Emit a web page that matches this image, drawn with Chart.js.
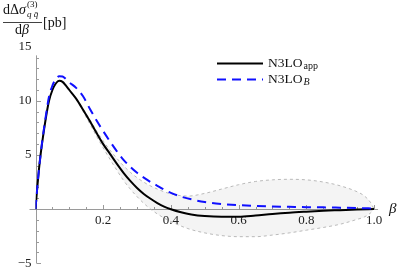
<!DOCTYPE html>
<html><head><meta charset="utf-8">
<script src="https://cdn.jsdelivr.net/npm/chart.js@4.4.0/dist/chart.umd.min.js"></script>
<style>html,body{margin:0;padding:0;background:#fff}</style>
</head><body><canvas id="c" width="399" height="275"></canvas>
<script>
// beta grid for the two curves
const betaValues = [0, 0.005, 0.01, 0.015, 0.02, 0.03, 0.04, 0.05, 0.06, 0.07, 0.08, 0.09, 0.10, 0.12, 0.14, 0.16, 0.18, 0.20, 0.22, 0.24, 0.26, 0.28, 0.30, 0.32, 0.34, 0.36, 0.38, 0.40, 0.43, 0.46, 0.50, 0.55, 0.60, 0.65, 0.70, 0.75, 0.80, 0.85, 0.90, 0.95, 1.0];
// N3LO_app (black solid)
const n3loApp = [0, 1.9, 3.6, 5.0, 6.2, 8.3, 10.0, 11.0, 11.6, 11.85, 11.75, 11.4, 11.0, 10.2, 9.2, 8.15, 7.05, 6.0, 5.1, 4.2, 3.35, 2.6, 1.95, 1.4, 0.95, 0.55, 0.22, -0.02, -0.3, -0.5, -0.65, -0.72, -0.72, -0.6, -0.45, -0.33, -0.24, -0.16, -0.1, -0.04, 0];
// N3LO_B (blue dashed)
const n3loB = [0, 1.9, 3.6, 5.0, 6.3, 8.5, 10.4, 11.4, 12.0, 12.28, 12.25, 12.0, 11.7, 11.2, 10.45, 9.3, 8.2, 7.2, 6.25, 5.35, 4.55, 3.9, 3.35, 2.9, 2.5, 2.15, 1.8, 1.5, 1.15, 0.9, 0.65, 0.47, 0.36, 0.29, 0.24, 0.21, 0.18, 0.16, 0.13, 0.1, 0.05];
// uncertainty band
const bandBeta  = [0.10, 0.12, 0.14, 0.16, 0.18, 0.20, 0.22, 0.24, 0.26, 0.28, 0.30, 0.33, 0.36, 0.40, 0.45, 0.50, 0.55, 0.60, 0.65, 0.70, 0.75, 0.80, 0.85, 0.90, 0.95, 0.97, 0.99, 1.0];
const bandUpper = [11.0, 10.25, 9.3, 8.3, 7.25, 6.3, 5.45, 4.7, 4.0, 3.4, 2.9, 2.3, 1.85, 1.4, 1.2, 1.45, 1.85, 2.25, 2.55, 2.7, 2.75, 2.7, 2.5, 2.15, 1.6, 1.25, 0.6, 0];
const bandLower = [11.0, 10.15, 9.05, 7.9, 6.75, 5.65, 4.6, 3.6, 2.65, 1.85, 1.15, 0.25, -0.45, -1.15, -1.8, -2.2, -2.45, -2.55, -2.55, -2.4, -2.2, -1.95, -1.7, -1.4, -0.95, -0.75, -0.35, 0];
// axis ticks
const xTickLabels = ['0.2', '0.4', '0.6', '0.8', '1.0'];
const yTickLabels = ['\u22125', '5', '10', '15'];
const legendLabels = [['N3LO', 'app'], ['N3LO', 'B']];

const pts = (xs, ys) => xs.map((v, i) => ({x: v, y: ys[i]}));
const SERIF = '"Liberation Serif", "DejaVu Serif", serif';
const AXIS = '#9a9a9a';

const decor = {
  id: 'decor',
  beforeDatasetsDraw(chart) {
    const {ctx, scales: {x, y}} = chart;
    const x0 = Math.round(x.getPixelForValue(0)) + 0.5;
    const y0 = Math.round(y.getPixelForValue(0)) + 0.5;
    ctx.save();
    ctx.strokeStyle = AXIS; ctx.lineWidth = 1;
    ctx.beginPath();
    ctx.moveTo(x0 - 7, y0); ctx.lineTo(x.getPixelForValue(1.012), y0);
    ctx.moveTo(x0, y.getPixelForValue(-5)); ctx.lineTo(x0, y.getPixelForValue(14.2));
    for (let i = 1; i <= 20; i++) {
      const px = Math.round(x.getPixelForValue(i * 0.05)) + 0.5;
      const len = (i % 4 === 0) ? 4.5 : 2.5;
      ctx.moveTo(px, y0); ctx.lineTo(px, y0 - len);
    }
    for (let v = -5; v <= 14; v++) {
      if (v === 0) continue;
      const py = Math.round(y.getPixelForValue(v)) + 0.5;
      const len = (v % 5 === 0) ? 4.5 : 2.5;
      ctx.moveTo(x0, py); ctx.lineTo(x0 + len, py);
    }
    ctx.stroke();
    ctx.restore();
  },
  afterDraw(chart) {
    const {ctx, scales: {x, y}} = chart;
    ctx.save();
    ctx.fillStyle = '#111';
    ctx.textBaseline = 'alphabetic';
    ctx.textAlign = 'left';
    // y-axis title fraction
    ctx.font = '14px ' + SERIF;
    ctx.fillText('d\u0394', 3, 14);
    let w = ctx.measureText('d\u0394').width;
    ctx.font = 'italic 14px ' + SERIF;
    ctx.fillText('\u03c3', 3 + w, 14);
    w += ctx.measureText('\u03c3').width;
    ctx.font = '9px ' + SERIF;
    ctx.fillText('(3)', 4 + w, 7);
    ctx.font = 'italic 9px ' + SERIF;
    ctx.fillText('q q\u0304', 4 + w, 17);
    ctx.strokeStyle = '#111'; ctx.lineWidth = 0.8;
    ctx.beginPath(); ctx.moveTo(3, 22.5); ctx.lineTo(42, 22.5); ctx.stroke();
    ctx.font = '14px ' + SERIF;
    ctx.fillText('d', 15, 34);
    const dw = ctx.measureText('d').width;
    ctx.font = 'italic 14px ' + SERIF;
    ctx.fillText('\u03b2', 15 + dw, 34);
    ctx.font = '14px ' + SERIF;
    ctx.fillText('[pb]', 43, 27);
    // x-axis title
    ctx.font = 'italic 15px ' + SERIF;
    ctx.textBaseline = 'middle';
    ctx.fillText('\u03b2', 389, y.getPixelForValue(0));
    // legend
    const lx0 = 217, lx1 = 263;
    const rows = [{yy: 63.5, color: '#000', dash: []}, {yy: 79.5, color: '#1010ff', dash: [9, 6]}];
    rows.forEach((r, i) => {
      ctx.strokeStyle = r.color; ctx.lineWidth = 2; ctx.setLineDash(r.dash);
      ctx.beginPath(); ctx.moveTo(lx0, r.yy); ctx.lineTo(lx1, r.yy); ctx.stroke();
      ctx.setLineDash([]);
      ctx.textBaseline = 'alphabetic';
      ctx.font = '13.5px ' + SERIF;
      ctx.fillStyle = '#111';
      ctx.fillText(legendLabels[i][0], 268, r.yy + 3.5);
      const tw = ctx.measureText(legendLabels[i][0]).width;
      ctx.font = (i === 1 ? 'italic ' : '') + '10px ' + SERIF;
      ctx.fillText(legendLabels[i][1], 268 + tw + 1, r.yy + 5.5);
    });
    ctx.restore();
  }
};

new Chart(document.getElementById('c'), {
  type: 'line',
  data: {
    datasets: [
      {label: 'N3LO_B', data: pts(betaValues, n3loB), borderColor: '#1010ff', borderWidth: 2, borderDash: [9, 6], pointRadius: 0, fill: false, cubicInterpolationMode: 'monotone', order: 0},
      {label: 'N3LO_app', data: pts(betaValues, n3loApp), borderColor: '#000', borderWidth: 2, pointRadius: 0, fill: false, cubicInterpolationMode: 'monotone', order: 1},
      {label: 'band upper', data: pts(bandBeta, bandUpper), borderColor: '#a8a8a8', borderWidth: 0.8, borderDash: [3, 3], pointRadius: 0, fill: false, cubicInterpolationMode: 'monotone', order: 2},
      {label: 'band lower', data: pts(bandBeta, bandLower), borderColor: '#a8a8a8', borderWidth: 0.8, borderDash: [3, 3], pointRadius: 0, fill: {target: 2}, backgroundColor: 'rgba(0,0,0,0.045)', cubicInterpolationMode: 'monotone', order: 3}
    ]
  },
  options: {
    responsive: false,
    animation: false,
    devicePixelRatio: 1,
    layout: {padding: {left: 0, top: 46.7, right: 25, bottom: 8.3}},
    plugins: {legend: {display: false}, tooltip: {enabled: false}},
    scales: {
      x: {
        type: 'linear', min: 0, max: 1,
        position: {y: 0},
        afterFit: s => { s.height = 0; },
        grid: {display: false, drawTicks: false}, border: {display: false},
        ticks: {
          stepSize: 0.2, autoSkip: false, maxRotation: 0, padding: 4,
          color: '#222', font: {family: SERIF, size: 13},
          callback: (v) => { const i = Math.round(v / 0.2) - 1; return i >= 0 ? xTickLabels[i] : ''; }
        }
      },
      y: {
        type: 'linear', min: -5, max: 15,
        position: 'left',
        afterFit: s => { s.width = 35.5; },
        grid: {display: false, drawTicks: false}, border: {display: false},
        ticks: {
          stepSize: 5, autoSkip: false, padding: 4,
          color: '#222', font: {family: SERIF, size: 13},
          callback: (v) => { const m = {'-5': 0, '5': 1, '10': 2, '15': 3}; return (String(v) in m) ? yTickLabels[m[String(v)]] : ''; }
        }
      }
    }
  },
  plugins: [decor]
});
</script>
</body></html>
